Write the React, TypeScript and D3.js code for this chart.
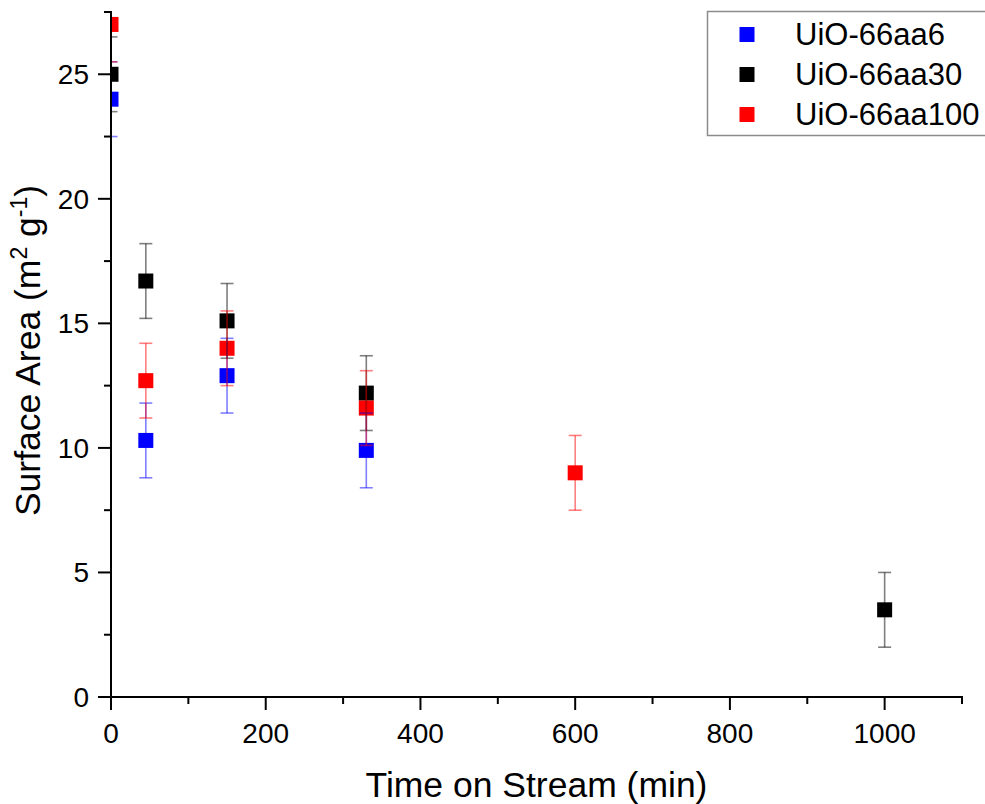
import React from "react";
import * as d3 from "d3";

const seriesNames = ["UiO-66aa6", "UiO-66aa30", "UiO-66aa100"];
const seriesColors = ["#0000ff", "#000000", "#ff0000"];

const timeAa6 = [0, 45, 150, 330];
const areaAa6 = [24.0, 10.3, 12.9, 9.9];
const errAa6 = [1.5, 1.5, 1.5, 1.5];

const timeAa30 = [0, 45, 150, 330, 1000];
const areaAa30 = [25.0, 16.7, 15.1, 12.2, 3.5];
const errAa30 = [1.5, 1.5, 1.5, 1.5, 1.5];

const timeAa100 = [0, 45, 150, 330, 600];
const areaAa100 = [27.0, 12.7, 14.0, 11.6, 9.0];
const errAa100 = [1.5, 1.5, 1.5, 1.5, 1.5];

const xMajorTicks = [0, 200, 400, 600, 800, 1000];
const xMinorTicks = [100, 300, 500, 700, 900, 1100];
const yMajorTicks = [0, 5, 10, 15, 20, 25];
const yMinorTicks = [2.5, 7.5, 12.5, 17.5, 22.5, 27.5];

const W = 985;
const H = 804;
const FONT = "'Liberation Sans', Arial, sans-serif";

export default function App() {
  const x = d3.scaleLinear().domain([0, 1100]).range([111, 962]);
  const y = d3.scaleLinear().domain([0, 27.5]).range([697, 12]);

  const series = [
    { t: timeAa6, v: areaAa6, e: errAa6 },
    { t: timeAa30, v: areaAa30, e: errAa30 },
    { t: timeAa100, v: areaAa100, e: errAa100 },
  ].map((s, i) => ({
    ...s,
    name: seriesNames[i],
    color: seriesColors[i],
    pts: s.t.map((tt, j) => ({ t: tt, v: s.v[j], e: s.e[j] })),
  }));

  const ms = 15;
  const capW = 13;
  const x0 = x(0);
  const y0 = y(0);

  return (
    <svg
      width={W}
      height={H}
      style={{ position: "absolute", left: 0, top: 0, background: "#fff" }}
      fontFamily={FONT}
    >
      <defs>
        <clipPath id="plotClip">
          <rect x={x0} y={y(27.5)} width={x(1100) - x0 + 10} height={y0 - y(27.5)} />
        </clipPath>
      </defs>
      <rect x={0} y={0} width={W} height={H} fill="#fff" />

      <g clipPath="url(#plotClip)">
        {series.map((s) =>
          s.pts.map((p, j) => (
            <rect
              key={s.name + "m" + j}
              x={x(p.t) - ms / 2}
              y={y(p.v) - ms / 2}
              width={ms}
              height={ms}
              fill={s.color}
            />
          ))
        )}
        {series.map((s) =>
          s.pts.map((p, j) => (
            <g key={s.name + "e" + j} stroke={s.color} strokeOpacity={0.5} strokeWidth={1.6}>
              <line x1={x(p.t)} x2={x(p.t)} y1={y(p.v + p.e)} y2={y(p.v - p.e)} />
              <line x1={x(p.t) - capW / 2} x2={x(p.t) + capW / 2} y1={y(p.v + p.e)} y2={y(p.v + p.e)} />
              <line x1={x(p.t) - capW / 2} x2={x(p.t) + capW / 2} y1={y(p.v - p.e)} y2={y(p.v - p.e)} />
            </g>
          ))
        )}
      </g>

      {/* axes */}
      <g stroke="#000" strokeWidth={2}>
        <line x1={x0} x2={x0} y1={y(27.5) - 1} y2={y0 + 1} />
        <line x1={x0 - 1} x2={x(1100) + 1} y1={y0} y2={y0} />
        {yMajorTicks.map((t) => (
          <line key={"ym" + t} x1={x0 - 13} x2={x0} y1={y(t)} y2={y(t)} />
        ))}
        {yMinorTicks.map((t) => (
          <line key={"yn" + t} x1={x0 - 7} x2={x0} y1={y(t)} y2={y(t)} />
        ))}
        {xMajorTicks.map((t) => (
          <line key={"xm" + t} x1={x(t)} x2={x(t)} y1={y0} y2={y0 + 13} />
        ))}
        {xMinorTicks.map((t) => (
          <line key={"xn" + t} x1={x(t)} x2={x(t)} y1={y0} y2={y0 + 7} />
        ))}
      </g>

      <g fontSize={28} fill="#000">
        {yMajorTicks.map((t) => (
          <text key={"yl" + t} x={x0 - 22} y={y(t) + 10} textAnchor="end">
            {t}
          </text>
        ))}
        {xMajorTicks.map((t) => (
          <text key={"xl" + t} x={x(t)} y={y0 + 46} textAnchor="middle">
            {t}
          </text>
        ))}
      </g>

      <text x={(x0 + x(1100)) / 2} y={797} textAnchor="middle" fontSize={35.5} fill="#000">
        Time on Stream (min)
      </text>

      <text
        transform={`translate(40, ${(y0 + y(27.5)) / 2 - 4}) rotate(-90)`}
        textAnchor="middle"
        fontSize={35.5}
        fill="#000"
      >
        Surface Area (m<tspan dy={-13} fontSize={23}>2</tspan>
        <tspan dy={13}> g</tspan>
        <tspan dy={-13} fontSize={23}>-1</tspan>
        <tspan dy={13}>)</tspan>
      </text>

      {/* legend */}
      <rect x={707.5} y={11.5} width={290} height={124} fill="#fff" stroke="#8c8c8c" strokeWidth={1.5} />
      {series.map((s, i) => {
        const base = 45 + i * 40;
        return (
          <g key={"lg" + i}>
            <rect x={747 - 7.5} y={base - 10.5 - 7.5} width={15} height={15} fill={s.color} />
            <text x={795} y={base} fontSize={31} fill="#000">
              {s.name}
            </text>
          </g>
        );
      })}
    </svg>
  );
}
